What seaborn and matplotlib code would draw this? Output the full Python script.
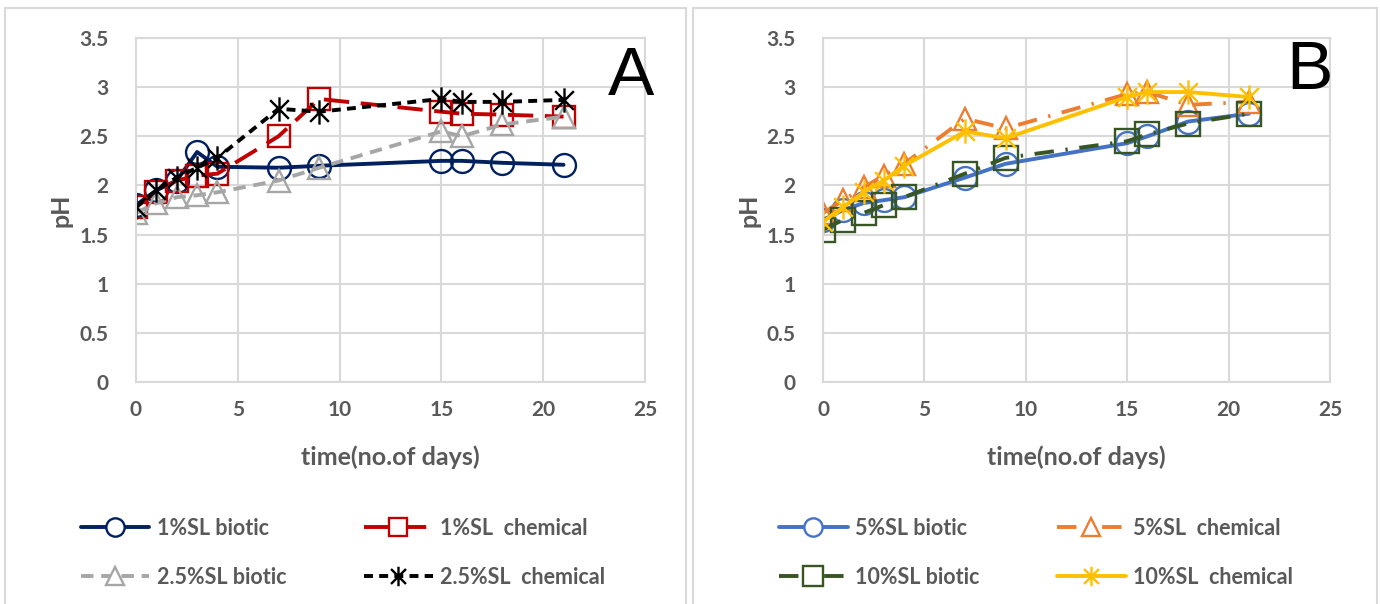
import numpy as np
import pandas as pd
import matplotlib
matplotlib.use("Agg")
import matplotlib.pyplot as plt
from matplotlib.path import Path
from matplotlib.patches import Rectangle
from matplotlib.lines import Line2D
import seaborn as sns

days = [0, 1, 2, 3, 4, 7, 9, 15, 16, 18, 21]

# Panel A
sl1_biotic = [1.80, 1.95, 2.05, 2.34, 2.19, 2.18, 2.20, 2.25, 2.25, 2.23, 2.21]
sl1_chemical = [1.78, 1.93, 2.05, 2.10, 2.12, 2.50, 2.88, 2.75, 2.73, 2.72, 2.70]
sl25_biotic = [1.72, 1.82, 1.88, 1.90, 1.93, 2.05, 2.18, 2.55, 2.50, 2.62, 2.70]
sl25_chemical = [1.78, 1.95, 2.08, 2.18, 2.28, 2.78, 2.75, 2.88, 2.85, 2.85, 2.87]

# Panel B
sl5_biotic = [1.65, 1.75, 1.82, 1.85, 1.88, 2.08, 2.22, 2.43, 2.50, 2.65, 2.73]
sl5_chemical = [1.72, 1.85, 1.98, 2.10, 2.22, 2.68, 2.58, 2.93, 2.95, 2.82, 2.85]
sl10_biotic = [1.55, 1.65, 1.72, 1.80, 1.88, 2.12, 2.28, 2.45, 2.52, 2.63, 2.73]
sl10_chemical = [1.63, 1.78, 1.93, 2.05, 2.20, 2.55, 2.48, 2.90, 2.95, 2.95, 2.90]

labels_a = ["1%SL biotic", "1%SL  chemical", "2.5%SL biotic", "2.5%SL  chemical"]
labels_b = ["5%SL biotic", "5%SL  chemical", "10%SL biotic", "10%SL  chemical"]

sns.set_theme(style="white")
plt.rcParams['font.family'] = ['Lato', 'DejaVu Sans']

# Excel-like star marker: X plus vertical bar
star = Path([(-1, -1), (1, 1), (-1, 1), (1, -1), (0, -1.3), (0, 1.3)],
            [Path.MOVETO, Path.LINETO, Path.MOVETO, Path.LINETO, Path.MOVETO, Path.LINETO])

TXT = "#595959"
GRID = "#d9d9d9"

fig = plt.figure(figsize=(13.8, 6.04), dpi=100)
fig.patch.set_facecolor("white")

# panel frames
for x0, x1 in [(5, 686), (693, 1377)]:
    fig.patches.append(Rectangle((x0 / 1380, -0.01), (x1 - x0) / 1380, (604 - 8) / 604 + 0.01,
                                 transform=fig.transFigure, fill=False,
                                 edgecolor=GRID, linewidth=1.5, zorder=0))

axA = fig.add_axes([136 / 1380, (604 - 382) / 604, 509 / 1380, 344 / 604])
axB = fig.add_axes([823 / 1380, (604 - 382) / 604, 507 / 1380, 344 / 604])

LW = 2.8
specs_a = [
    (sl1_biotic, labels_a[0], "#002060", "o", None, 16.5),
    (sl1_chemical, labels_a[1], "#C00000", "s", (6.5, 3), 16.5),
    (sl25_biotic, labels_a[2], "#A6A6A6", "^", (3.2, 2), 16.5),
    (sl25_chemical, labels_a[3], "#000000", star, (2.3, 1.6), 17.5),
]
specs_b = [
    (sl5_biotic, labels_b[0], "#4472C4", "o", None, 16.5),
    (sl5_chemical, labels_b[1], "#ED7D31", "^", (5, 3, 0.6, 3), 16.5),
    (sl10_biotic, labels_b[2], "#375623", "s", (5, 3, 0.6, 3), 17.5),
    (sl10_chemical, labels_b[3], "#FFC000", star, None, 17.5),
]


def draw(ax, specs, letter, lx, ly, legx):
    handles = []
    for vals, lab, col, mk, dsh, ms in specs:
        sns.lineplot(x=days, y=vals, ax=ax, color=col, linewidth=LW,
                     marker=mk, markersize=ms, markerfacecolor="none",
                     markeredgecolor=col, markeredgewidth=1.7, legend=False)
        line = ax.lines[-1]
        if dsh is not None:
            line.set_dashes(dsh)
        h = Line2D([0], [0], color=col, linewidth=LW, marker=mk, markersize=ms * 0.8,
                   markerfacecolor="white", markeredgecolor=col, markeredgewidth=1.7)
        if dsh is not None:
            h.set_dashes(dsh)
        handles.append(h)
    ax.set_xlim(0, 25)
    ax.set_ylim(0, 3.5)
    ax.set_xticks(np.arange(0, 26, 5))
    ax.set_yticks(np.arange(0, 3.51, 0.5))
    ax.set_yticklabels([f"{v:g}" for v in np.arange(0, 3.51, 0.5)])
    ax.grid(True, color=GRID, linewidth=1.5)
    for s in ax.spines.values():
        s.set_color(GRID)
        s.set_linewidth(1.5)
    ax.tick_params(axis="x", length=0, labelsize=15, labelcolor=TXT, pad=13)
    ax.tick_params(axis="y", length=0, labelsize=15, labelcolor=TXT, pad=20)
    for t in ax.get_xticklabels() + ax.get_yticklabels():
        t.set_fontweight("bold")
    ax.set_xlabel("time(no.of days)", fontsize=18, fontweight="bold", color=TXT)
    ax.set_ylabel("pH", fontsize=18, fontweight="bold", color=TXT)
    ax.xaxis.set_label_coords(0.5, -(445 - 382) / 344)
    ax.yaxis.set_label_coords(-(136 - 73) / 509, 0.5)
    ax.text(lx, ly, letter, fontsize=50, color="black", ha="center", va="center",
            family=["Liberation Sans", "DejaVu Sans"])
    order = [0, 2, 1, 3]
    leg = fig.legend(handles=[handles[i] for i in order],
                     labels=[specs[i][1] for i in order], ncol=2,
                     loc="center", bbox_to_anchor=(legx, 0.085), frameon=False,
                     prop=dict(size=15.5, weight="bold"), labelcolor=TXT,
                     handlelength=3.2, handletextpad=0.35, columnspacing=3.6,
                     labelspacing=1.3)
    return leg


draw(axA, specs_a, "A", 24.3, 3.10, 343 / 1380)
draw(axB, specs_b, "B", 24.0, 3.16, 1036 / 1380)

fig.savefig("out.png", dpi=100, facecolor="white")
